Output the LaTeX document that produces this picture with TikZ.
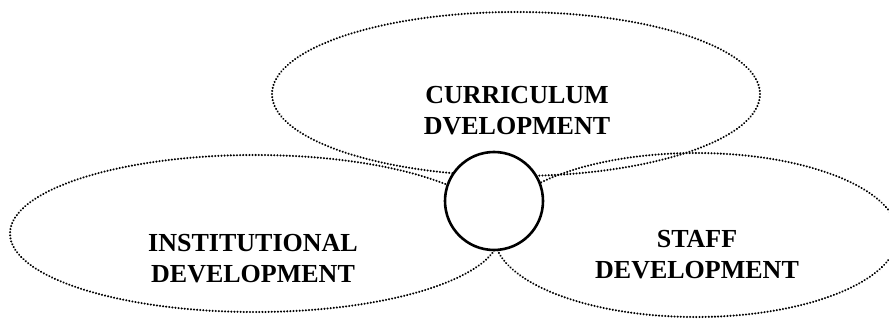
\documentclass[tikz,border=0pt]{standalone}
\usepackage{fontspec}
\setmainfont{Liberation Serif}
\usetikzlibrary{shapes.geometric}
\tikzset{petal/.style={draw, ellipse, dash pattern=on 0.01pt off 3.1pt, line cap=round,
   line width=2.3pt, inner sep=0pt, outer sep=0pt},
 hub/.style={draw, circle, fill=white, line width=2.6pt, minimum size=98pt, inner sep=0pt},
 areatext/.style={align=center, font=\fontsize{26}{31}\selectfont\bfseries},
 }

\begin{document}
\begin{tikzpicture}[x=1pt,y=-1pt]
        \useasboundingbox (0,0) rectangle (889,321);
        \node[petal, minimum width=488pt, minimum height=164pt] (curr) at (516,94) {};
        \node[petal, minimum width=490pt, minimum height=157pt] (inst) at (255,233.5) {};
        \node[petal, minimum width=404pt, minimum height=164pt] (staff) at (696,235) {};
        \node[areatext] (currtext) at (517,111) {CURRICULUM\\DVELOPMENT};
        \node[areatext] (insttext) at (253,259) {INSTITUTIONAL\\DEVELOPMENT};
        \node[areatext] (stafftext) at (697,255) {STAFF\\DEVELOPMENT};
        \node[hub] (core) at (494,201) {};
    \end{tikzpicture}
\end{document}
